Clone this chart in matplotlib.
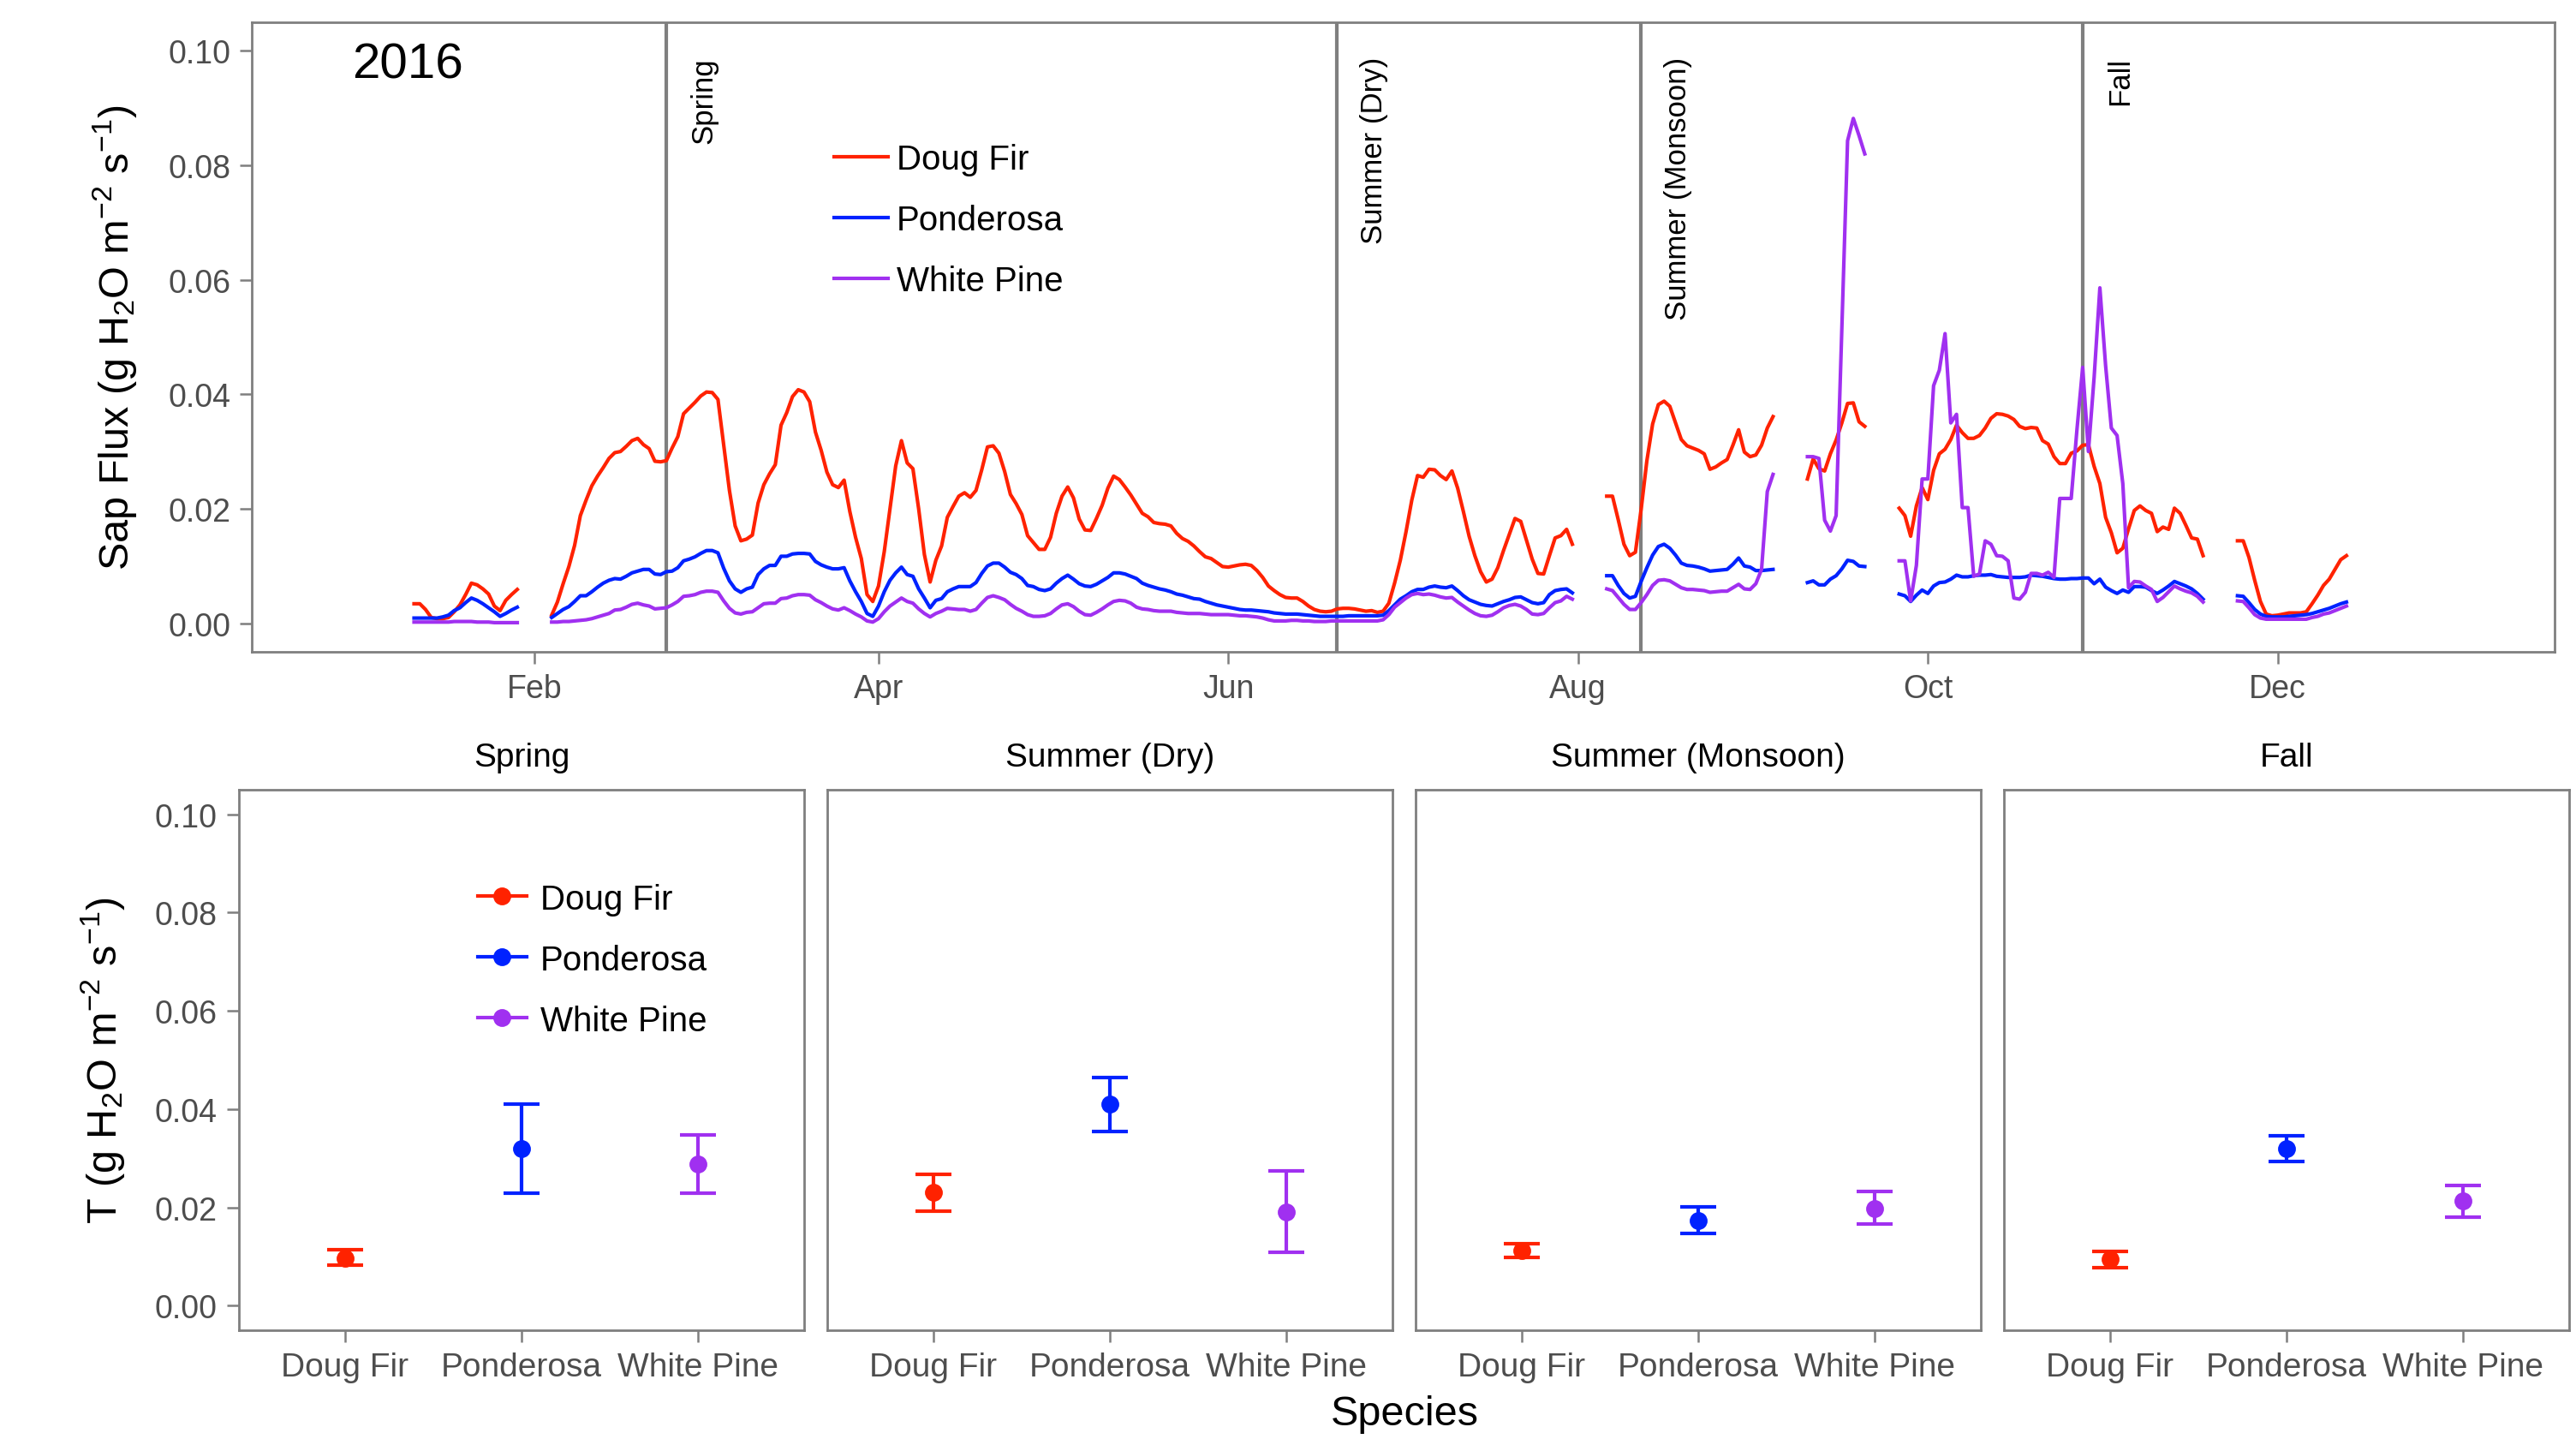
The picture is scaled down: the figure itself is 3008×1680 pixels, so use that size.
import matplotlib
matplotlib.use('Agg')
import matplotlib.pyplot as plt
import matplotlib.dates as mdates
from matplotlib.lines import Line2D
import numpy as np
import pandas as pd

plt.rcParams['font.family'] = ['Liberation Sans', 'DejaVu Sans']
plt.rcParams['mathtext.fontset'] = 'custom'
plt.rcParams['mathtext.rm'] = 'Liberation Sans'
plt.rcParams['mathtext.it'] = 'Liberation Sans:italic'
plt.rcParams['mathtext.default'] = 'regular'

species = ['Doug Fir', 'Ponderosa', 'White Pine']
colors = ['#FF2200', '#0022FF', '#A030F0']

seasons = ['Spring', 'Summer (Dry)', 'Summer (Monsoon)', 'Fall']
season_start = ['2016-02-24', '2016-06-20', '2016-08-12', '2016-10-28']

# daily sap flux 2016, one sub-list per run of logged days
segment_start = ['2016-01-11', '2016-02-04', '2016-08-06', '2016-09-10', '2016-09-26', '2016-11-24']

doug_fir_flux = [
    [0.0034, 0.0034, 0.0024, 0.0010, 0.0008, 0.0008, 0.0010, 0.0020, 0.0032, 0.0050,
     0.0070, 0.0067, 0.0060, 0.0051, 0.0030, 0.0022, 0.0040, 0.0050, 0.0059],
    [0.0014, 0.0037, 0.0069, 0.0099, 0.0136, 0.0188, 0.0215, 0.0240, 0.0257, 0.0272,
     0.0288, 0.0298, 0.0300, 0.0309, 0.0319, 0.0323, 0.0312, 0.0305, 0.0283, 0.0282,
     0.0284, 0.0306, 0.0326, 0.0366, 0.0376, 0.0386, 0.0397, 0.0404, 0.0403, 0.0391,
     0.0311, 0.0232, 0.0170, 0.0144, 0.0147, 0.0154, 0.0210, 0.0242, 0.0261, 0.0277,
     0.0346, 0.0368, 0.0396, 0.0408, 0.0404, 0.0387, 0.0334, 0.0302, 0.0264, 0.0242,
     0.0237, 0.0250, 0.0195, 0.0150, 0.0113, 0.0050, 0.0038, 0.0065, 0.0125, 0.0200,
     0.0275, 0.0319, 0.0280, 0.0270, 0.0200, 0.0120, 0.0072, 0.0110, 0.0135, 0.0185,
     0.0204, 0.0222, 0.0228, 0.0220, 0.0232, 0.0268, 0.0308, 0.0310, 0.0297, 0.0265,
     0.0225, 0.0209, 0.0190, 0.0153, 0.0141, 0.0129, 0.0129, 0.0150, 0.0192, 0.0222,
     0.0238, 0.0219, 0.0182, 0.0163, 0.0162, 0.0183, 0.0206, 0.0236, 0.0257, 0.0251,
     0.0238, 0.0224, 0.0208, 0.0192, 0.0186, 0.0176, 0.0174, 0.0173, 0.0170, 0.0157,
     0.0148, 0.0143, 0.0135, 0.0125, 0.0116, 0.0113, 0.0106, 0.0099, 0.0098, 0.0100,
     0.0102, 0.0103, 0.0101, 0.0092, 0.0080, 0.0065, 0.0057, 0.0050, 0.0045, 0.0044,
     0.0044, 0.0038, 0.0030, 0.0024, 0.0021, 0.0020, 0.0021, 0.0025, 0.0026, 0.0026,
     0.0025, 0.0023, 0.0021, 0.0022, 0.0019, 0.0021, 0.0035, 0.0070, 0.0110, 0.0160,
     0.0215, 0.0258, 0.0255, 0.0269, 0.0268, 0.0258, 0.0251, 0.0266, 0.0236, 0.0195,
     0.0152, 0.0118, 0.0090, 0.0072, 0.0077, 0.0097, 0.0127, 0.0155, 0.0183, 0.0178,
     0.0145, 0.0112, 0.0087, 0.0086, 0.0118, 0.0149, 0.0153, 0.0164, 0.0138],
    [0.0222, 0.0222, 0.0181, 0.0138, 0.0118, 0.0124, 0.0199, 0.0284, 0.0348, 0.0382,
     0.0388, 0.0379, 0.0350, 0.0321, 0.0310, 0.0306, 0.0302, 0.0296, 0.0269, 0.0273,
     0.0280, 0.0286, 0.0311, 0.0338, 0.0299, 0.0291, 0.0294, 0.0311, 0.0341, 0.0361],
    [0.0252, 0.0287, 0.0270, 0.0266, 0.0296, 0.0320, 0.0350, 0.0384, 0.0385, 0.0352, 0.0344],
    [0.0201, 0.0188, 0.0152, 0.0205, 0.0237, 0.0216, 0.0267, 0.0296, 0.0304, 0.0321,
     0.0346, 0.0333, 0.0323, 0.0323, 0.0328, 0.0341, 0.0358, 0.0366, 0.0365, 0.0362,
     0.0356, 0.0344, 0.0340, 0.0342, 0.0341, 0.0319, 0.0313, 0.0291, 0.0279, 0.0279,
     0.0297, 0.0301, 0.0311, 0.0312, 0.0274, 0.0244, 0.0185, 0.0158, 0.0123, 0.0131,
     0.0165, 0.0197, 0.0205, 0.0197, 0.0192, 0.0160, 0.0168, 0.0164, 0.0201, 0.0192,
     0.0171, 0.0149, 0.0147, 0.0118],
    [0.0144, 0.0144, 0.0115, 0.0075, 0.0038, 0.0016, 0.0013, 0.0014, 0.0016, 0.0018,
     0.0018, 0.0018, 0.0020, 0.0034, 0.0049, 0.0066, 0.0077, 0.0094, 0.0111, 0.0118],
]

ponderosa_flux = [
    [0.0009, 0.0009, 0.0009, 0.0009, 0.0009, 0.0011, 0.0014, 0.0022, 0.0027, 0.0036,
     0.0044, 0.0040, 0.0034, 0.0027, 0.0020, 0.0012, 0.0017, 0.0023, 0.0028],
    [0.0010, 0.0017, 0.0024, 0.0029, 0.0038, 0.0048, 0.0048, 0.0055, 0.0063, 0.0070,
     0.0075, 0.0078, 0.0077, 0.0082, 0.0088, 0.0091, 0.0094, 0.0094, 0.0086, 0.0085,
     0.0090, 0.0091, 0.0097, 0.0109, 0.0112, 0.0116, 0.0122, 0.0127, 0.0127, 0.0123,
     0.0096, 0.0074, 0.0060, 0.0054, 0.0060, 0.0063, 0.0085, 0.0095, 0.0101, 0.0101,
     0.0117, 0.0117, 0.0121, 0.0122, 0.0122, 0.0121, 0.0108, 0.0102, 0.0098, 0.0095,
     0.0095, 0.0097, 0.0074, 0.0055, 0.0038, 0.0017, 0.0012, 0.0030, 0.0055, 0.0075,
     0.0088, 0.0098, 0.0085, 0.0082, 0.0060, 0.0044, 0.0027, 0.0040, 0.0043, 0.0055,
     0.0060, 0.0064, 0.0064, 0.0064, 0.0071, 0.0087, 0.0100, 0.0105, 0.0105, 0.0098,
     0.0089, 0.0085, 0.0078, 0.0066, 0.0064, 0.0059, 0.0057, 0.0060, 0.0070, 0.0078,
     0.0084, 0.0077, 0.0069, 0.0065, 0.0064, 0.0068, 0.0074, 0.0080, 0.0088, 0.0088,
     0.0086, 0.0082, 0.0078, 0.0070, 0.0066, 0.0063, 0.0060, 0.0058, 0.0055, 0.0051,
     0.0049, 0.0046, 0.0043, 0.0042, 0.0038, 0.0035, 0.0032, 0.0030, 0.0028, 0.0026,
     0.0024, 0.0023, 0.0023, 0.0022, 0.0021, 0.0020, 0.0018, 0.0017, 0.0016, 0.0016,
     0.0016, 0.0015, 0.0014, 0.0013, 0.0012, 0.0012, 0.0012, 0.0012, 0.0012, 0.0013,
     0.0013, 0.0013, 0.0013, 0.0013, 0.0013, 0.0014, 0.0022, 0.0032, 0.0042, 0.0048,
     0.0055, 0.0059, 0.0059, 0.0063, 0.0065, 0.0063, 0.0062, 0.0065, 0.0057, 0.0048,
     0.0041, 0.0037, 0.0033, 0.0031, 0.0030, 0.0034, 0.0038, 0.0041, 0.0045, 0.0046,
     0.0041, 0.0036, 0.0034, 0.0036, 0.0050, 0.0057, 0.0059, 0.0060, 0.0053],
    [0.0083, 0.0083, 0.0066, 0.0052, 0.0044, 0.0047, 0.0073, 0.0097, 0.0119, 0.0134,
     0.0138, 0.0131, 0.0119, 0.0105, 0.0101, 0.0100, 0.0098, 0.0095, 0.0091, 0.0092,
     0.0093, 0.0094, 0.0103, 0.0114, 0.0100, 0.0098, 0.0092, 0.0092, 0.0093, 0.0094],
    [0.0071, 0.0074, 0.0067, 0.0067, 0.0077, 0.0083, 0.0095, 0.0110, 0.0108, 0.0100, 0.0099],
    [0.0051, 0.0048, 0.0038, 0.0049, 0.0058, 0.0052, 0.0065, 0.0071, 0.0072, 0.0077,
     0.0084, 0.0081, 0.0081, 0.0083, 0.0084, 0.0084, 0.0085, 0.0082, 0.0081, 0.0080,
     0.0080, 0.0080, 0.0081, 0.0084, 0.0083, 0.0082, 0.0080, 0.0078, 0.0077, 0.0077,
     0.0078, 0.0078, 0.0079, 0.0079, 0.0069, 0.0077, 0.0063, 0.0057, 0.0052, 0.0058,
     0.0054, 0.0064, 0.0064, 0.0063, 0.0057, 0.0052, 0.0058, 0.0065, 0.0073, 0.0069,
     0.0065, 0.0060, 0.0052, 0.0042],
    [0.0048, 0.0047, 0.0036, 0.0024, 0.0016, 0.0012, 0.0011, 0.0011, 0.0011, 0.0012,
     0.0013, 0.0014, 0.0015, 0.0017, 0.0020, 0.0023, 0.0026, 0.0030, 0.0034, 0.0037],
]

white_pine_flux = [
    [0.0002, 0.0002, 0.0002, 0.0002, 0.0002, 0.0002, 0.0002, 0.0003, 0.0003, 0.0003,
     0.0003, 0.0002, 0.0002, 0.0002, 0.0001, 0.0001, 0.0001, 0.0001, 0.0001],
    [0.0002, 0.0002, 0.0003, 0.0003, 0.0004, 0.0005, 0.0006, 0.0008, 0.0011, 0.0014,
     0.0017, 0.0023, 0.0024, 0.0028, 0.0033, 0.0035, 0.0032, 0.0030, 0.0025, 0.0026,
     0.0027, 0.0032, 0.0038, 0.0047, 0.0048, 0.0050, 0.0054, 0.0056, 0.0056, 0.0054,
     0.0039, 0.0026, 0.0018, 0.0016, 0.0019, 0.0020, 0.0027, 0.0034, 0.0035, 0.0035,
     0.0043, 0.0044, 0.0048, 0.0050, 0.0050, 0.0049, 0.0041, 0.0036, 0.0030, 0.0025,
     0.0023, 0.0027, 0.0022, 0.0016, 0.0011, 0.0004, 0.0002, 0.0008, 0.0020, 0.0030,
     0.0037, 0.0044, 0.0038, 0.0035, 0.0025, 0.0017, 0.0011, 0.0017, 0.0021, 0.0026,
     0.0025, 0.0024, 0.0024, 0.0021, 0.0024, 0.0035, 0.0045, 0.0048, 0.0045, 0.0041,
     0.0033, 0.0026, 0.0021, 0.0015, 0.0012, 0.0012, 0.0013, 0.0017, 0.0025, 0.0032,
     0.0034, 0.0029, 0.0021, 0.0015, 0.0014, 0.0019, 0.0025, 0.0032, 0.0038, 0.0040,
     0.0039, 0.0035, 0.0028, 0.0025, 0.0024, 0.0022, 0.0021, 0.0021, 0.0021, 0.0019,
     0.0018, 0.0017, 0.0017, 0.0017, 0.0016, 0.0015, 0.0015, 0.0015, 0.0015, 0.0014,
     0.0013, 0.0013, 0.0012, 0.0011, 0.0009, 0.0006, 0.0004, 0.0004, 0.0004, 0.0005,
     0.0005, 0.0004, 0.0004, 0.0003, 0.0003, 0.0003, 0.0004, 0.0004, 0.0004, 0.0004,
     0.0004, 0.0004, 0.0004, 0.0004, 0.0004, 0.0006, 0.0015, 0.0028, 0.0036, 0.0044,
     0.0050, 0.0052, 0.0050, 0.0051, 0.0049, 0.0046, 0.0044, 0.0045, 0.0037, 0.0030,
     0.0023, 0.0017, 0.0013, 0.0012, 0.0014, 0.0020, 0.0027, 0.0031, 0.0033, 0.0030,
     0.0024, 0.0016, 0.0015, 0.0017, 0.0027, 0.0036, 0.0039, 0.0047, 0.0042],
    [0.0060, 0.0057, 0.0045, 0.0033, 0.0024, 0.0024, 0.0036, 0.0050, 0.0066, 0.0075,
     0.0076, 0.0074, 0.0068, 0.0062, 0.0059, 0.0059, 0.0058, 0.0057, 0.0054, 0.0055,
     0.0056, 0.0056, 0.0062, 0.0068, 0.0060, 0.0059, 0.0069, 0.0094, 0.0230, 0.0260],
    [0.0291, 0.0291, 0.0288, 0.0180, 0.0161, 0.0188, 0.0515, 0.0843, 0.0882, 0.0852, 0.0820],
    [0.0109, 0.0109, 0.0039, 0.0101, 0.0252, 0.0252, 0.0415, 0.0442, 0.0506, 0.0350,
     0.0365, 0.0202, 0.0202, 0.0082, 0.0086, 0.0144, 0.0138, 0.0118, 0.0117, 0.0109,
     0.0044, 0.0042, 0.0054, 0.0087, 0.0087, 0.0084, 0.0089, 0.0080, 0.0218, 0.0218,
     0.0218, 0.0338, 0.0447, 0.0300, 0.0430, 0.0586, 0.0450, 0.0341, 0.0328, 0.0244,
     0.0062, 0.0073, 0.0072, 0.0065, 0.0059, 0.0038, 0.0045, 0.0055, 0.0065, 0.0060,
     0.0056, 0.0053, 0.0047, 0.0037],
    [0.0039, 0.0038, 0.0027, 0.0015, 0.0009, 0.0007, 0.0007, 0.0007, 0.0007, 0.0007,
     0.0007, 0.0007, 0.0007, 0.0010, 0.0012, 0.0016, 0.0018, 0.0022, 0.0026, 0.0030],
]

# seasonal transpiration, mean and error bar ends (Spring, Dry, Monsoon, Fall)
doug_fir_mean = [0.0097, 0.0230, 0.0112, 0.0094]
doug_fir_lo = [0.0083, 0.0192, 0.0098, 0.0077]
doug_fir_hi = [0.0113, 0.0268, 0.0126, 0.0111]
ponderosa_mean = [0.0319, 0.0410, 0.0174, 0.0319]
ponderosa_lo = [0.0229, 0.0355, 0.0147, 0.0293]
ponderosa_hi = [0.0411, 0.0465, 0.0201, 0.0345]
white_pine_mean = [0.0289, 0.0191, 0.0198, 0.0213]
white_pine_lo = [0.0229, 0.0109, 0.0166, 0.0180]
white_pine_hi = [0.0347, 0.0274, 0.0232, 0.0245]

border = '#7F7F7F'
tick_col = '#4D4D4D'
W, H = 3008, 1681


def style_axes(ax):
    for s in ax.spines.values():
        s.set_color(border)
        s.set_linewidth(1.0)
    ax.tick_params(direction='out', length=5, width=0.9, color=border,
                   labelcolor=tick_col, labelsize=13.5, pad=4)


fig = plt.figure(figsize=(W / 200, H / 200), dpi=200)

# top: daily time series
ax = fig.add_axes([294 / W, 1 - 762 / H, (2983 - 294) / W, (762 - 27) / H])
style_axes(ax)
for d in season_start:
    ax.axvline(pd.Timestamp(d), color=border, lw=1.5, zorder=1.5)
for flux, name, col in zip([doug_fir_flux, ponderosa_flux, white_pine_flux], species, colors):
    for k, (start, vals) in enumerate(zip(segment_start, flux)):
        dates = pd.date_range(start, periods=len(vals), freq='D')
        ax.plot(dates, vals, color=col, lw=1.5, zorder=2, label=name if k == 0 else None)
for d, name in zip(season_start, seasons):
    ax.text(pd.Timestamp(d) + pd.Timedelta(days=4), 0.099, name, rotation=90,
            ha='left', va='top', fontsize=12.5)
ax.text(0.0677, 0.932, '2016', transform=ax.transAxes, ha='center', va='center', fontsize=21)

ax.set_xlim(pd.Timestamp('2016-01-01') - pd.Timedelta(days=18.3),
            pd.Timestamp('2016-12-31') + pd.Timedelta(days=18.3))
ax.xaxis.set_major_locator(mdates.MonthLocator(bymonth=[2, 4, 6, 8, 10, 12]))
ax.xaxis.set_major_formatter(mdates.DateFormatter('%b'))
ax.set_ylim(-0.005, 0.105)
ax.set_yticks(np.arange(0, 0.101, 0.02))
ax.yaxis.set_major_formatter(matplotlib.ticker.FormatStrFormatter('%.2f'))
ax.set_ylabel(r'Sap Flux (g H$_2$O m$^{-2}$ s$^{-1}$)', fontsize=17.5)
ax.yaxis.set_label_coords(-0.049, 0.5)
ax.legend(loc='upper left', bbox_to_anchor=(0.253, 0.808), frameon=False, fontsize=14.5,
          borderpad=0, borderaxespad=0, handlelength=1.55, handletextpad=0.25, labelspacing=0.82)

# bottom: seasonal means per species
means = [doug_fir_mean, ponderosa_mean, white_pine_mean]
los = [doug_fir_lo, ponderosa_lo, white_pine_lo]
his = [doug_fir_hi, ponderosa_hi, white_pine_hi]
lefts = [279, 966, 1653, 2340]
for i, season in enumerate(seasons):
    bx = fig.add_axes([lefts[i] / W, 1 - 1554 / H, 660 / W, 631 / H])
    style_axes(bx)
    for j, col in enumerate(colors):
        m = means[j][i]
        bx.errorbar(j + 1, m, yerr=[[m - los[j][i]], [his[j][i] - m]], fmt='o', color=col,
                    ms=6.5, elinewidth=1.5, capsize=7.5, capthick=1.5)
    bx.set_xlim(0.4, 3.6)
    bx.set_xticks([1, 2, 3])
    bx.set_xticklabels(species, fontsize=14)
    bx.set_ylim(-0.005, 0.105)
    bx.set_yticks(np.arange(0, 0.101, 0.02))
    bx.yaxis.set_major_formatter(matplotlib.ticker.FormatStrFormatter('%.2f'))
    bx.text(0.5, 1.06, season, transform=bx.transAxes, ha='center', va='center', fontsize=14)
    if i == 0:
        bx.set_ylabel(r'T (g H$_2$O m$^{-2}$ s$^{-1}$)', fontsize=17.5)
        bx.yaxis.set_label_coords(-0.198, 0.5)
        handles = [Line2D([], [], color=c, marker='o', ms=6.5, lw=1.5) for c in colors]
        bx.legend(handles, species, loc='upper left', bbox_to_anchor=(0.423, 0.828),
                  frameon=False, fontsize=14.5, borderpad=0, borderaxespad=0,
                  handlelength=1.4, handletextpad=0.4, labelspacing=0.82)
    else:
        bx.tick_params(axis='y', left=False, labelleft=False)

fig.text(1640 / W, 1 - 1652 / H, 'Species', ha='center', va='center', fontsize=17.5)

fig.savefig('out.png', dpi=200)
